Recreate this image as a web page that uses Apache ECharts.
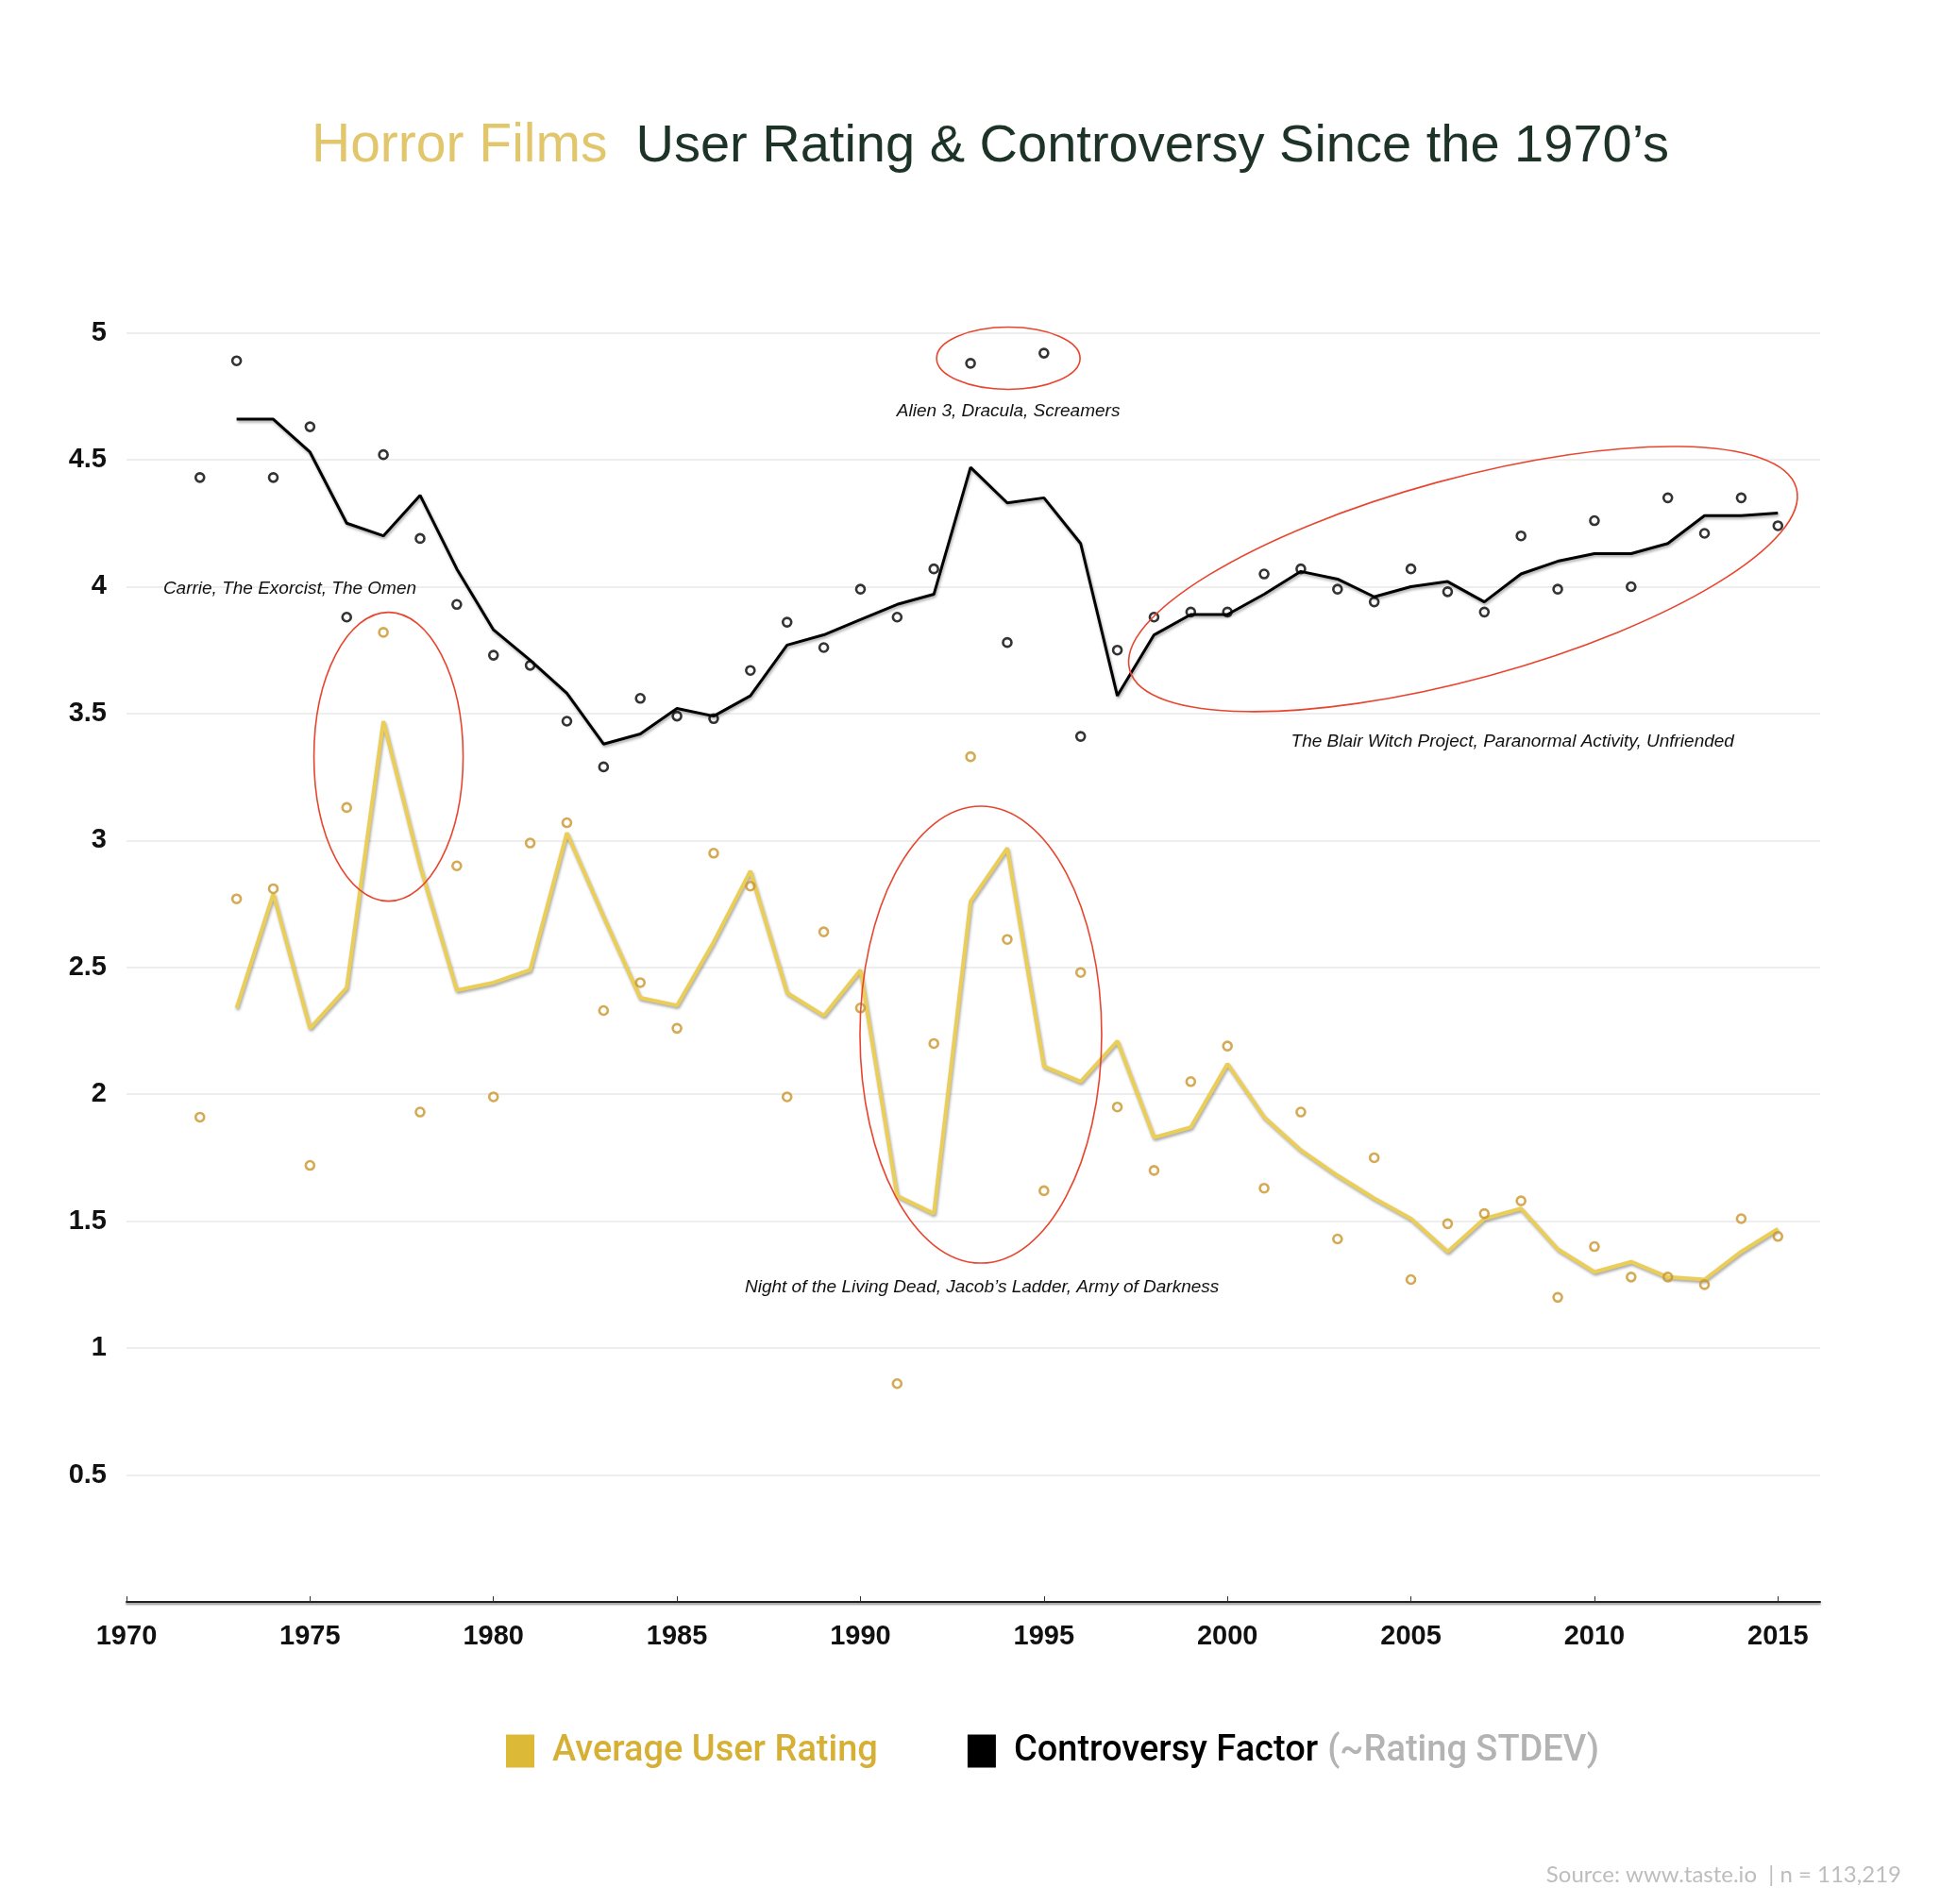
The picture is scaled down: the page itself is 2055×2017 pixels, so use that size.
<!DOCTYPE html>
<html>
<head>
<meta charset="utf-8">
<script src="https://cdn.jsdelivr.net/npm/echarts@6/dist/echarts.min.js"></script>
<style>
html,body{margin:0;padding:0;background:#fff;}
#chart{width:2055px;height:2017px;}
</style>
</head>
<body>
<div id="chart"></div>
<script>
// ---------- DATA ----------
const pointYears = [1972,1973,1974,1975,1976,1977,1978,1979,1980,1981,1982,1983,1984,1985,1986,1987,1988,1989,1990,1991,1992,1993,1994,1995,1996,1997,1998,1999,2000,2001,2002,2003,2004,2005,2006,2007,2008,2009,2010,2011,2012,2013,2014,2015];
const lineYears = [1973,1974,1975,1976,1977,1978,1979,1980,1981,1982,1983,1984,1985,1986,1987,1988,1989,1990,1991,1992,1993,1994,1995,1996,1997,1998,1999,2000,2001,2002,2003,2004,2005,2006,2007,2008,2009,2010,2011,2012,2013,2014,2015];

// Average user rating: yearly points and smoothed line
const ratingPoints = [1.91,2.77,2.81,1.72,3.13,3.82,1.93,2.90,1.99,2.99,3.07,2.33,2.44,2.26,2.95,2.82,1.99,2.64,2.34,0.86,2.20,3.33,2.61,1.62,2.48,1.95,1.70,2.05,2.19,1.63,1.93,1.43,1.75,1.27,1.49,1.53,1.58,1.20,1.40,1.28,1.28,1.25,1.51,1.44];
const ratingLine = [2.34,2.79,2.26,2.42,3.47,2.90,2.41,2.44,2.49,3.03,2.70,2.38,2.35,2.60,2.88,2.40,2.31,2.49,1.60,1.53,2.76,2.97,2.11,2.05,2.21,1.83,1.87,2.12,1.91,1.78,1.68,1.59,1.51,1.38,1.51,1.55,1.39,1.30,1.34,1.28,1.27,1.38,1.47];

// Controversy factor (~rating STDEV): yearly points and smoothed line
const controversyPoints = [4.43,4.89,4.43,4.63,3.88,4.52,4.19,3.93,3.73,3.69,3.47,3.29,3.56,3.49,3.48,3.67,3.86,3.76,3.99,3.88,4.07,4.88,3.78,4.92,3.41,3.75,3.88,3.90,3.90,4.05,4.07,3.99,3.94,4.07,3.98,3.90,4.20,3.99,4.26,4.00,4.35,4.21,4.35,4.24];
const controversyLine = [4.66,4.66,4.53,4.25,4.20,4.36,4.07,3.83,3.71,3.58,3.38,3.42,3.52,3.49,3.57,3.77,3.81,3.87,3.93,3.97,4.47,4.33,4.35,4.17,3.57,3.81,3.89,3.89,3.97,4.06,4.03,3.96,4.00,4.02,3.94,4.05,4.10,4.13,4.13,4.17,4.28,4.28,4.29];

const xTickValues = [1970,1975,1980,1985,1990,1995,2000,2005,2010,2015];

const annotationTexts = [
  'Alien 3, Dracula, Screamers',
  'Carrie, The Exorcist, The Omen',
  'The Blair Witch Project, Paranormal Activity, Unfriended',
  'Night of the Living Dead, Jacob\u2019s Ladder, Army of Darkness'
];
// anchors in data coordinates (year, value)
const annotationLabelAt = [[1994.03,4.69],[1974.45,3.99],[2007.77,3.39],[1993.31,1.24]];
const annotationEllipseAt = [[1994.03,4.90],[1977.14,3.33],[2006.42,4.03],[1993.28,2.235]];

// ---------- STYLE ----------
const GOLD_LINE = '#EACE58';
const GOLD_DOT = '#C9952B';
const RED = '#E8452F';
const ellipseGeom = [
  {rx:76, ry:33, rot:0},
  {rx:79, ry:153, rot:0},
  {rx:366, ry:106, rot:15.25},
  {rx:128, ry:242, rot:0}
];
const LEGEND_FONT = 'Roboto, "Liberation Sans", sans-serif';
const TITLE_FONT = 'Liberation Sans, Arial, sans-serif';

const chart = echarts.init(document.getElementById('chart'), null, {renderer:'canvas'});
const pairs = (xs, ys) => xs.map((x,i)=>[x, ys[i]]);
const shadowLine = {shadowColor:'rgba(0,0,0,0.35)', shadowBlur:3, shadowOffsetX:1, shadowOffsetY:2};

const option = {
  animation:false,
  backgroundColor:'#ffffff',
  title:[{
    text:'{a|Horror Films}{b|User Rating & Controversy Since the 1970\u2019s}',
    left:325, top:122,
    textStyle:{
      fontWeight:'normal',
      rich:{
        a:{color:'#E2C66C', fontSize:57, fontWeight:'normal', fontFamily:TITLE_FONT},
        b:{color:'#1E3327', fontSize:56, fontWeight:'normal', fontFamily:TITLE_FONT, padding:[0,0,0,30]}
      }
    }
  },{
    text:'Source: www.taste.io  | n = 113,219',
    right:36, top:1969,
    textStyle:{color:'#BDBDBD', fontSize:24, fontWeight:'normal', fontFamily:'Lato, Roboto, sans-serif'}
  }],
  legend:{
    left:536, top:1836, padding:0,
    itemWidth:30, itemHeight:35, itemGap:95,
    selectedMode:false,
    data:[
      {name:'Average User Rating', icon:'rect', itemStyle:{color:'#DCB936', borderWidth:0}},
      {name:'Controversy Factor', icon:'rect', itemStyle:{color:'#000000', borderWidth:0}}
    ],
    formatter:function(name){
      if(name==='Controversy Factor') return '{k|Controversy Factor}{g|(~Rating STDEV)}';
      return '{y|Average User Rating}';
    },
    textStyle:{
      rich:{
        y:{color:'#D6B035', fontSize:38, fontWeight:500, fontFamily:LEGEND_FONT, padding:[0,0,0,14]},
        k:{color:'#000000', fontSize:38, fontWeight:500, fontFamily:LEGEND_FONT, padding:[0,0,0,14]},
        g:{color:'#B3B3B3', fontSize:38, fontWeight:500, fontFamily:LEGEND_FONT, padding:[0,0,0,10]}
      }
    }
  },
  grid:{left:134, right:127, top:352.6, bottom:320, containLabel:false},
  xAxis:{
    type:'value', min:1970, max:2016.15,
    splitLine:{show:false},
    axisLine:{show:true, lineStyle:{color:'#222', width:2, shadowColor:'rgba(0,0,0,0.45)', shadowBlur:2, shadowOffsetY:2}},
    axisTick:{show:true, inside:true, length:6, customValues:xTickValues, lineStyle:{color:'#333', width:1}},
    axisLabel:{customValues:xTickValues, margin:22, color:'#111', fontSize:29, fontWeight:'bold', fontFamily:'Liberation Sans, Arial, sans-serif', formatter:v=>String(v)}
  },
  yAxis:{
    type:'value', min:0, max:5, interval:0.5,
    axisLine:{show:false}, axisTick:{show:false},
    splitLine:{show:true, lineStyle:{color:'#E8E8E8', width:1.5}},
    axisLabel:{showMinLabel:false, margin:21, color:'#111', fontSize:29, fontWeight:'bold', fontFamily:'Liberation Sans, Arial, sans-serif'}
  },
  series:[
    {name:'Average User Rating', type:'line', data:pairs(lineYears, ratingLine), showSymbol:false, silent:true,
      lineStyle:Object.assign({color:GOLD_LINE, width:4}, shadowLine), itemStyle:{color:GOLD_LINE}, z:3},
    {name:'Controversy Factor', type:'line', data:pairs(lineYears, controversyLine), showSymbol:false, silent:true,
      lineStyle:Object.assign({color:'#000', width:3}, shadowLine), itemStyle:{color:'#000'}, z:3},
    {name:'Average User Rating', type:'scatter', data:pairs(pointYears, ratingPoints), symbol:'circle', symbolSize:9, silent:true,
      itemStyle:{color:'rgba(255,255,255,0)', borderColor:GOLD_DOT, borderWidth:2.6}, z:4},
    {name:'Controversy Factor', type:'scatter', data:pairs(pointYears, controversyPoints), symbol:'circle', symbolSize:9, silent:true,
      itemStyle:{color:'rgba(255,255,255,0)', borderColor:'#000', borderWidth:2.6}, z:4}
  ]
};
chart.setOption(option);

// annotations placed through the axes' scales
const graphics = [];
annotationTexts.forEach((t,i)=>{
  const c = chart.convertToPixel({gridIndex:0}, annotationEllipseAt[i]);
  const g = ellipseGeom[i];
  graphics.push({type:'ellipse', x:c[0], y:c[1], rotation:g.rot*Math.PI/180, silent:true,
    shape:{cx:0, cy:0, rx:g.rx, ry:g.ry}, style:{fill:'none', stroke:RED, lineWidth:1.6}, z:10});
  const p = chart.convertToPixel({gridIndex:0}, annotationLabelAt[i]);
  graphics.push({type:'text', x:p[0], y:p[1], silent:true,
    style:{text:t, fill:'#111', font:'italic 19px "Liberation Sans", Arial, sans-serif', textAlign:'center', textVerticalAlign:'middle'}, z:10});
});
chart.setOption({graphic:graphics});
</script>
</body>
</html>
